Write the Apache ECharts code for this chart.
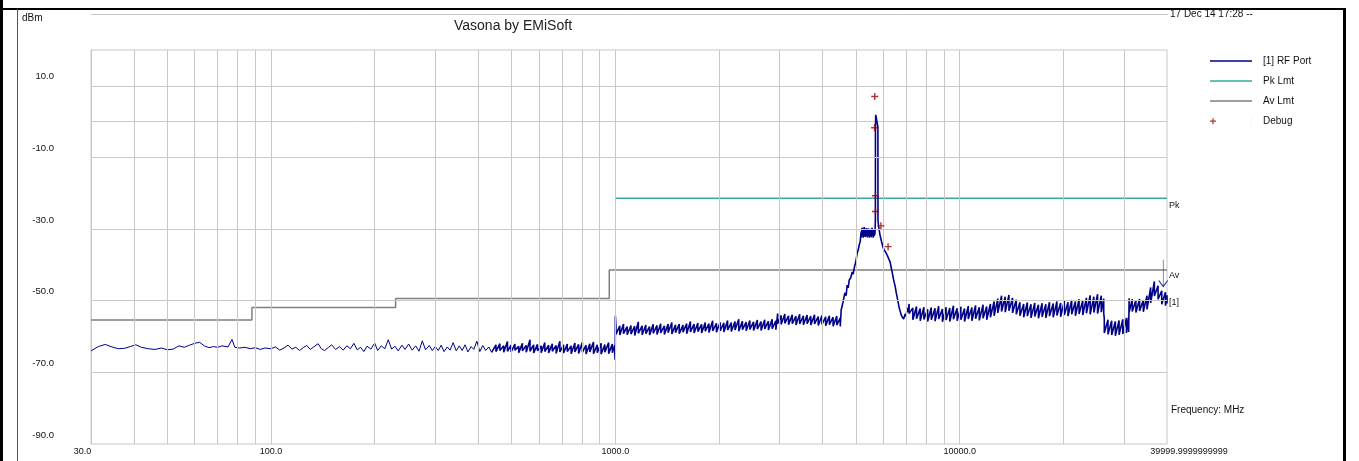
<!DOCTYPE html>
<html>
<head>
<meta charset="utf-8">
<script src="https://cdn.jsdelivr.net/npm/echarts@6/dist/echarts.min.js"></script>
<style>
html,body{margin:0;padding:0;background:#fff;}
#chart{width:1359px;height:461px;}
</style>
</head>
<body>
<div id="chart"></div>
<script>
// ---------- data ----------
const xTickValues = [30, 100, 1000, 10000, 40000];
const xTickLabels = ['30.0', '100.0', '1000.0', '10000.0', '39999.9999999999'];
const yTickValues = [-90, -70, -50, -30, -10, 10];
const xGridFreqs = [40,50,60,70,80,90,100,200,300,400,500,600,700,800,900,1000,2000,3000,4000,5000,6000,7000,8000,9000,10000,20000,30000];
const yGridLevels = [-70, -50, -30, -10, 10];

const pkLmt = [[1000, -21.4], [40000, -21.4]];
const avLmt = [[30, -55.4], [88, -51.9], [230, -49.4], [960, -41.4], [40000, -41.4]];

const debugPts = [[5665, 7.0], [5660, -1.7], [5693, -20.7], [5693, -25.1], [5904, -29.1], [6196, -34.9]];
const arrowMarker = [39000, -42.3];

// RF Port trace: single readings [MHz, dBm]
const rfLow = [
 [30,-64.0],[31.5,-62.8],[33,-62.2],[34.5,-62.9],[36,-63.4],[37.5,-63.3],[39,-62.8],[40.5,-62.3],[42,-63.0],[44,-63.4],
 [46,-63.6],[48,-63.2],[50,-63.7],[52,-63.5],[54,-62.6],[56,-63.0],[58,-62.4],[60,-61.9],[62,-61.6],[64,-62.6],
 [66,-63.1],[68,-62.8],[70,-63.0],[72,-62.6],[75,-62.9],[77,-60.8],[78.5,-63.0],[81,-63.2],[84,-63.0],[87,-63.4],
 [90,-63.1],[93,-63.6],[96,-63.2],[100,-63.4],[103,-62.9],[106,-63.8],[109,-63.2],[112,-62.4],[115,-63.5],[118,-63.0],
 [121,-63.9],[124,-63.1],[127,-62.5],[130,-63.6],[133,-62.9],[137,-62.0],[140,-63.4],[143,-63.9],[147,-63.0],[150,-62.3],
 [154,-63.6],[158,-62.8],[162,-63.8],[166,-62.6],[170,-63.4],[174,-61.9],[178,-63.7],[182,-63.0],[186,-64.2],[190,-62.7],
 [195,-63.5],[200,-61.8],[204,-63.9],[209,-62.6],[214,-63.4],[219,-60.9],[224,-63.5],[229,-62.7],[234,-64.0],[240,-62.4],
 [245,-63.6],[251,-62.1],[257,-63.8],[263,-62.6],[269,-64.1],[275,-61.2],[281,-63.7],[288,-62.5],[294,-63.9],[300,-62.8],
 [306,-63.9],[312,-62.4],[318,-64.2],[325,-62.9],[331,-63.8],[338,-61.7],[345,-64.0],[352,-62.6],[359,-63.9],[366,-62.3],
 [373,-64.3],[381,-62.8],[388,-63.6],[396,-61.3],[404,-64.2],[412,-62.5],[420,-63.9],[429,-62.9],[437,-64.4]
];
// RF Port trace: dense bands read as [MHz, min dBm, max dBm]
const rfBand1 = [
 [450,-64.2,-62.3],[462,-63.9,-62.0],[474,-64.4,-62.6],[486,-64.1,-61.4],[498,-64.3,-62.4],[511,-63.8,-62.1],[524,-64.5,-62.7],[537,-64.0,-61.9],
 [551,-64.4,-62.5],[565,-64.1,-60.9],[579,-64.6,-62.3],[594,-64.0,-62.2],[609,-64.5,-62.6],[624,-64.2,-61.7],[640,-64.6,-62.4],[656,-64.1,-62.0],
 [673,-64.7,-62.5],[690,-64.3,-61.3],[707,-64.6,-62.3],[725,-64.2,-62.1],[744,-64.8,-62.6],[763,-64.3,-61.8],[782,-64.7,-62.2],[802,-64.4,-61.6],
 [822,-64.9,-62.4],[843,-64.3,-62.0],[864,-64.8,-61.5],[886,-64.5,-62.3],[909,-64.9,-61.9],[932,-64.4,-62.2],[956,-64.8,-61.7],[980,-64.5,-62.1],
 [996,-65.0,-62.4]
];
const rfEdge1G = [[999,-66.5],[1000,-54.2]];
const rfBand2 = [
 [1004,-59.4,-57.3],[1030,-59.6,-57.0],[1056,-59.2,-56.5],[1082,-59.5,-57.2],[1110,-59.3,-56.9],[1138,-59.7,-57.1],[1166,-59.1,-55.9],[1196,-59.5,-57.0],
 [1226,-59.2,-56.8],[1257,-59.6,-57.2],[1288,-59.1,-56.6],[1321,-59.4,-56.9],[1354,-59.0,-56.4],[1388,-59.4,-57.0],[1423,-58.9,-56.5],[1459,-59.3,-56.1],
 [1495,-58.9,-56.7],[1533,-59.2,-56.5],[1572,-58.8,-56.8],[1611,-59.2,-56.4],[1652,-58.7,-55.8],[1693,-59.0,-56.5],[1736,-58.6,-56.2],[1780,-59.0,-56.6],
 [1824,-58.5,-56.1],[1870,-58.9,-56.4],[1917,-58.4,-55.6],[1966,-58.8,-56.3],[2015,-58.4,-56.0],[2066,-58.7,-56.2],[2118,-58.2,-55.5],[2171,-58.6,-56.1],
 [2226,-58.2,-55.8],[2282,-58.5,-55.2],[2339,-58.1,-55.7],[2398,-58.4,-56.0],[2458,-58.0,-55.5],[2520,-58.3,-55.9],[2584,-57.9,-55.4],[2649,-58.3,-55.8],
 [2715,-57.9,-55.3],[2783,-58.2,-55.7],[2853,-57.8,-55.2],[2925,-58.1,-55.6],[2960,-56.4,-53.6],[3030,-56.6,-54.1],[3106,-56.3,-53.7],[3184,-56.7,-54.2],
 [3264,-56.4,-53.9],[3346,-56.8,-54.3],[3430,-56.5,-53.8],[3516,-56.7,-54.2],[3605,-56.4,-54.0],[3695,-56.8,-54.3],[3788,-56.5,-53.9],[3883,-56.9,-54.4],
 [3981,-56.6,-54.1],[4081,-57.0,-54.5],[4184,-56.7,-54.2],[4289,-57.1,-54.6],[4397,-56.8,-54.3],[4500,-57.2,-54.8]
];
const rfRise = [
 [4527,-52.6],[4580,-50.5],[4640,-47.8],[4680,-48.6],[4712,-45.6],[4745,-46.4],[4777,-44.2],[4825,-43.6],[4873,-42.0],[4905,-42.6],
 [4939,-40.9],[4990,-39.2],[5040,-36.7],[5075,-35.8],[5107,-34.4],[5140,-33.5]
];
const rfShoulder = [
 [5175,-32.3,-30.6],[5210,-32.0,-29.6],[5245,-32.4,-30.2],[5280,-31.9,-29.4],[5315,-32.2,-30.0],[5350,-31.8,-29.7],[5386,-32.3,-30.1],
 [5420,-31.9,-29.8],[5458,-32.4,-30.3],[5495,-32.0,-29.9],[5531,-32.3,-30.2],[5568,-31.8,-29.6],[5605,-32.4,-30.4],[5640,-31.9,-30.0]
];
const rfSpikeFall = [
 [5675,-31.2],[5690,-27.5],[5693,-1.0],[5705,1.9],[5760,1.9],[5787,-1.5],[5790,-27.5],[5810,-29.0],[5835,-28.9],[5865,-31.5],
 [5894,-31.1],[5925,-33.4],[5955,-33.9],[5995,-35.2],[6036,-35.8],[6075,-36.2],[6117,-36.7],[6160,-37.3],[6199,-37.5],[6240,-38.6],
 [6282,-39.2],[6325,-40.8],[6366,-42.0],[6410,-43.6],[6451,-44.8],[6495,-46.0],[6538,-47.6],[6580,-49.0],[6626,-50.4],[6670,-51.9],
 [6715,-52.9],[6760,-53.9],[6805,-54.5],[6873,-55.1],[6942,-53.7],[6985,-54.4],[7035,-52.0],[7080,-53.2]
];
const rfBand3 = [
 [7130,-53.6,-50.9],[7310,-55.3,-52.0],[7490,-55.0,-51.6],[7680,-55.6,-52.2],[7870,-55.2,-51.8],[8070,-55.8,-52.4],[8270,-55.3,-51.9],[8480,-55.7,-52.1],
 [8690,-55.1,-51.5],[8910,-55.9,-52.3],[9130,-55.4,-51.8],[9360,-55.8,-52.0],[9590,-55.2,-51.4],[9830,-55.6,-52.1],[10080,-55.3,-51.7],[10330,-55.8,-52.2],
 [10590,-55.1,-51.5],[10850,-55.6,-51.9],[11120,-55.0,-51.3],[11400,-55.5,-51.8],[11690,-54.9,-51.1],[11980,-55.3,-51.6],[12280,-54.6,-50.9],[12590,-54.2,-50.2],
 [12900,-53.4,-49.4],[13230,-53.0,-48.6],[13560,-53.2,-48.9],[13900,-52.8,-48.4],[14240,-53.4,-49.2],[14600,-53.8,-49.7],[14960,-54.2,-50.4],[15340,-54.6,-50.9],
 [15720,-54.3,-50.5],[16110,-54.8,-51.0],[16520,-54.4,-50.6],[16930,-54.9,-51.1],[17350,-54.5,-50.7],[17790,-54.8,-51.0],[18230,-54.3,-50.4],[18690,-54.6,-50.8],
 [19160,-54.1,-50.2],[19640,-54.5,-50.6],[20130,-54.0,-50.1],[20630,-54.3,-50.4],[21150,-53.8,-49.8],[21680,-54.2,-50.2],[22220,-53.7,-49.6],[22770,-54.0,-49.9],
 [23340,-53.5,-49.2],[23930,-53.8,-48.5],[24530,-53.3,-48.9],[25140,-53.6,-48.2],[25770,-53.2,-48.6],[26200,-53.5,-49.4],
 [26300,-59.0,-55.0],[26960,-59.4,-55.3],[27630,-59.6,-55.6],[28320,-59.8,-55.8],[29030,-59.5,-55.5],[29760,-59.3,-55.2],[30500,-59.0,-54.8],[30950,-58.7,-54.6],
 [31050,-53.2,-49.3],[31700,-53.0,-49.6],[32490,-53.3,-49.9],[33300,-52.9,-49.5],[34140,-53.1,-49.8],[34990,-52.4,-48.6],[35860,-50.6,-46.3],[36760,-48.7,-44.6],
 [37680,-49.6,-45.8],[38620,-51.0,-47.2],[39590,-51.4,-47.6],[40000,-50.8,-48.5]
];

const band = env => env.flatMap(([f, lo, hi]) => [[f, hi], [f, lo]]);
// thin, low-noise part of the sweep and the dense, noisy part (same trace, same legend entry)
const rfThin = rfLow;
const rfDense = [rfLow[rfLow.length - 1]].concat(band(rfBand1), rfEdge1G, band(rfBand2), rfRise, band(rfShoulder), rfSpikeFall, band(rfBand3));

// ---------- chart ----------
const FONT = 'Liberation Sans';
const RF_COLOR = '#000088';
const chart = echarts.init(document.getElementById('chart'), null, {renderer: 'canvas'});

function xLabel(v) {
  const i = xTickValues.findIndex(t => Math.abs(Math.log10(t) - Math.log10(v)) < 1e-6);
  if (i < 0) return '';
  if (i === 0) return '{first|' + xTickLabels[i] + '}';
  if (i === xTickValues.length - 1) return '{last|' + xTickLabels[i] + '}';
  return xTickLabels[i];
}
const lineIcon = 'path://M0,0h0.01v10h-0.01z M0,4.25h42v1.5h-42z';

const option = {
  animation: false,
  backgroundColor: '#ffffff',
  textStyle: {fontFamily: FONT},
  title: {
    text: 'Vasona by EMiSoft', left: 449, top: 14,
    textStyle: {fontSize: 14, fontWeight: 'normal', color: '#222', fontFamily: FONT}
  },
  legend: {
    orient: 'vertical', left: 1210, top: 56, padding: 0,
    itemWidth: 42, itemHeight: 10, itemGap: 10,
    textStyle: {fontSize: 10, color: '#111', fontFamily: FONT, padding: [0, 0, 4, 6]},
    data: [
      {name: '[1] RF Port', icon: lineIcon},
      {name: 'Pk Lmt', icon: lineIcon},
      {name: 'Av Lmt', icon: lineIcon},
      {name: 'Debug', icon: 'path://M2.4,2.2h1.2v2.4h2.4v1.2h-2.4v2.4h-1.2v-2.4h-2.4v-1.2h2.4z M41.95,0h0.05v10h-0.05z'}
    ],
    selectedMode: false
  },
  grid: {left: 91, right: 192, top: 50, bottom: 17, show: true, borderColor: '#c8c8c8', borderWidth: 1},
  xAxis: {
    type: 'log', logBase: 10, min: 30, max: 40000,
    axisLine: {show: true, lineStyle: {color: '#c8c8c8'}},
    axisTick: {show: false}, splitLine: {show: false}, minorTick: {show: false},
    axisLabel: {
      customValues: xTickValues, formatter: xLabel, margin: 3, fontSize: 9, color: '#111', fontFamily: FONT,
      showMinLabel: true, showMaxLabel: true, hideOverlap: false,
      rich: {first: {fontSize: 9, color: '#111', padding: [0, 17, 0, 0]}, last: {fontSize: 9, color: '#111', padding: [0, 0, 0, 44]}}
    }
  },
  yAxis: {
    type: 'value', min: -90, max: 20,
    axisLine: {show: true, lineStyle: {color: '#c8c8c8'}},
    axisTick: {show: false}, splitLine: {show: false},
    axisLabel: {
      customValues: yTickValues, formatter: v => v.toFixed(1), margin: 37, fontSize: 9.5, color: '#111',
      verticalAlign: 'bottom', padding: [0, 0, 4, 0], fontFamily: FONT
    }
  },
  graphic: [
    {type: 'line', shape: {x1: 0, y1: 9, x2: 1346, y2: 9}, style: {stroke: '#000', lineWidth: 2}},
    {type: 'line', shape: {x1: 1.5, y1: 0, x2: 1.5, y2: 461}, style: {stroke: '#000', lineWidth: 3}},
    {type: 'line', shape: {x1: 1344.5, y1: 9, x2: 1344.5, y2: 461}, style: {stroke: '#000', lineWidth: 3}},
    {type: 'line', shape: {x1: 17.5, y1: 9, x2: 17.5, y2: 461}, style: {stroke: '#555', lineWidth: 1}},
    {type: 'line', shape: {x1: 91, y1: 14.5, x2: 1168, y2: 14.5}, style: {stroke: '#c8c8c8', lineWidth: 1}},
    {type: 'text', left: 1170, top: 9, style: {text: '17 Dec 14 17:28 --', fill: '#111', font: '10px "Liberation Sans"'}},
    {type: 'text', left: 22, top: 13, style: {text: 'dBm', fill: '#111', font: '10px "Liberation Sans"'}},
    {type: 'text', left: 1171, top: 405, style: {text: 'Frequency: MHz', fill: '#111', font: '10px "Liberation Sans"'}}
  ],
  series: [
    {
      name: 'grid', type: 'line', data: [], silent: true, z: 0,
      markLine: {
        silent: true, symbol: ['none', 'none'], label: {show: false}, animation: false,
        lineStyle: {color: '#c8c8c8', width: 1, type: 'solid'},
        emphasis: {disabled: true},
        data: xGridFreqs.map(f => ({xAxis: f})).concat(yGridLevels.map(v => ({yAxis: v})))
      }
    },
    {
      name: 'Av Lmt', type: 'line', step: 'end', data: avLmt, symbol: 'none', z: 3,
      lineStyle: {color: '#808080', width: 1.5}, itemStyle: {color: '#808080'},
      endLabel: {show: true, formatter: 'Av', distance: 2, offset: [0, 6], fontSize: 9, color: '#111', fontFamily: FONT}
    },
    {
      name: 'Pk Lmt', type: 'line', data: pkLmt, symbol: 'none', z: 3,
      lineStyle: {color: '#3aa8a0', width: 1.5}, itemStyle: {color: '#3aa8a0'},
      endLabel: {show: true, formatter: 'Pk', distance: 2, offset: [0, 7], fontSize: 9, color: '#111', fontFamily: FONT}
    },
    {
      name: '[1] RF Port', type: 'line', data: rfThin, symbol: 'none', z: 4,
      lineStyle: {color: RF_COLOR, width: 1}, itemStyle: {color: RF_COLOR}
    },
    {
      name: '[1] RF Port', type: 'line', data: rfDense, symbol: 'none', z: 4,
      lineStyle: {color: RF_COLOR, width: 1.6}, itemStyle: {color: RF_COLOR},
      endLabel: {show: true, formatter: '[1]', distance: 2, offset: [0, -1], fontSize: 9, color: '#111', fontFamily: FONT},
      markPoint: {
        silent: true, animation: false,
        symbol: 'path://M5,0V26M0.5,20.5L5,26.5L9.5,20.5', symbolSize: [9, 27],
        itemStyle: {color: 'transparent', borderColor: '#3030b0', borderWidth: 1},
        label: {show: false},
        data: [{coord: arrowMarker}]
      }
    },
    {
      name: 'Debug', type: 'scatter', data: debugPts, z: 5,
      symbol: 'path://M2.4,0h1.2v2.4h2.4v1.2h-2.4v2.4h-1.2v-2.4h-2.4v-1.2h2.4z', symbolSize: 7,
      itemStyle: {color: '#990000'}
    }
  ]
};
chart.setOption(option);
</script>
</body>
</html>
